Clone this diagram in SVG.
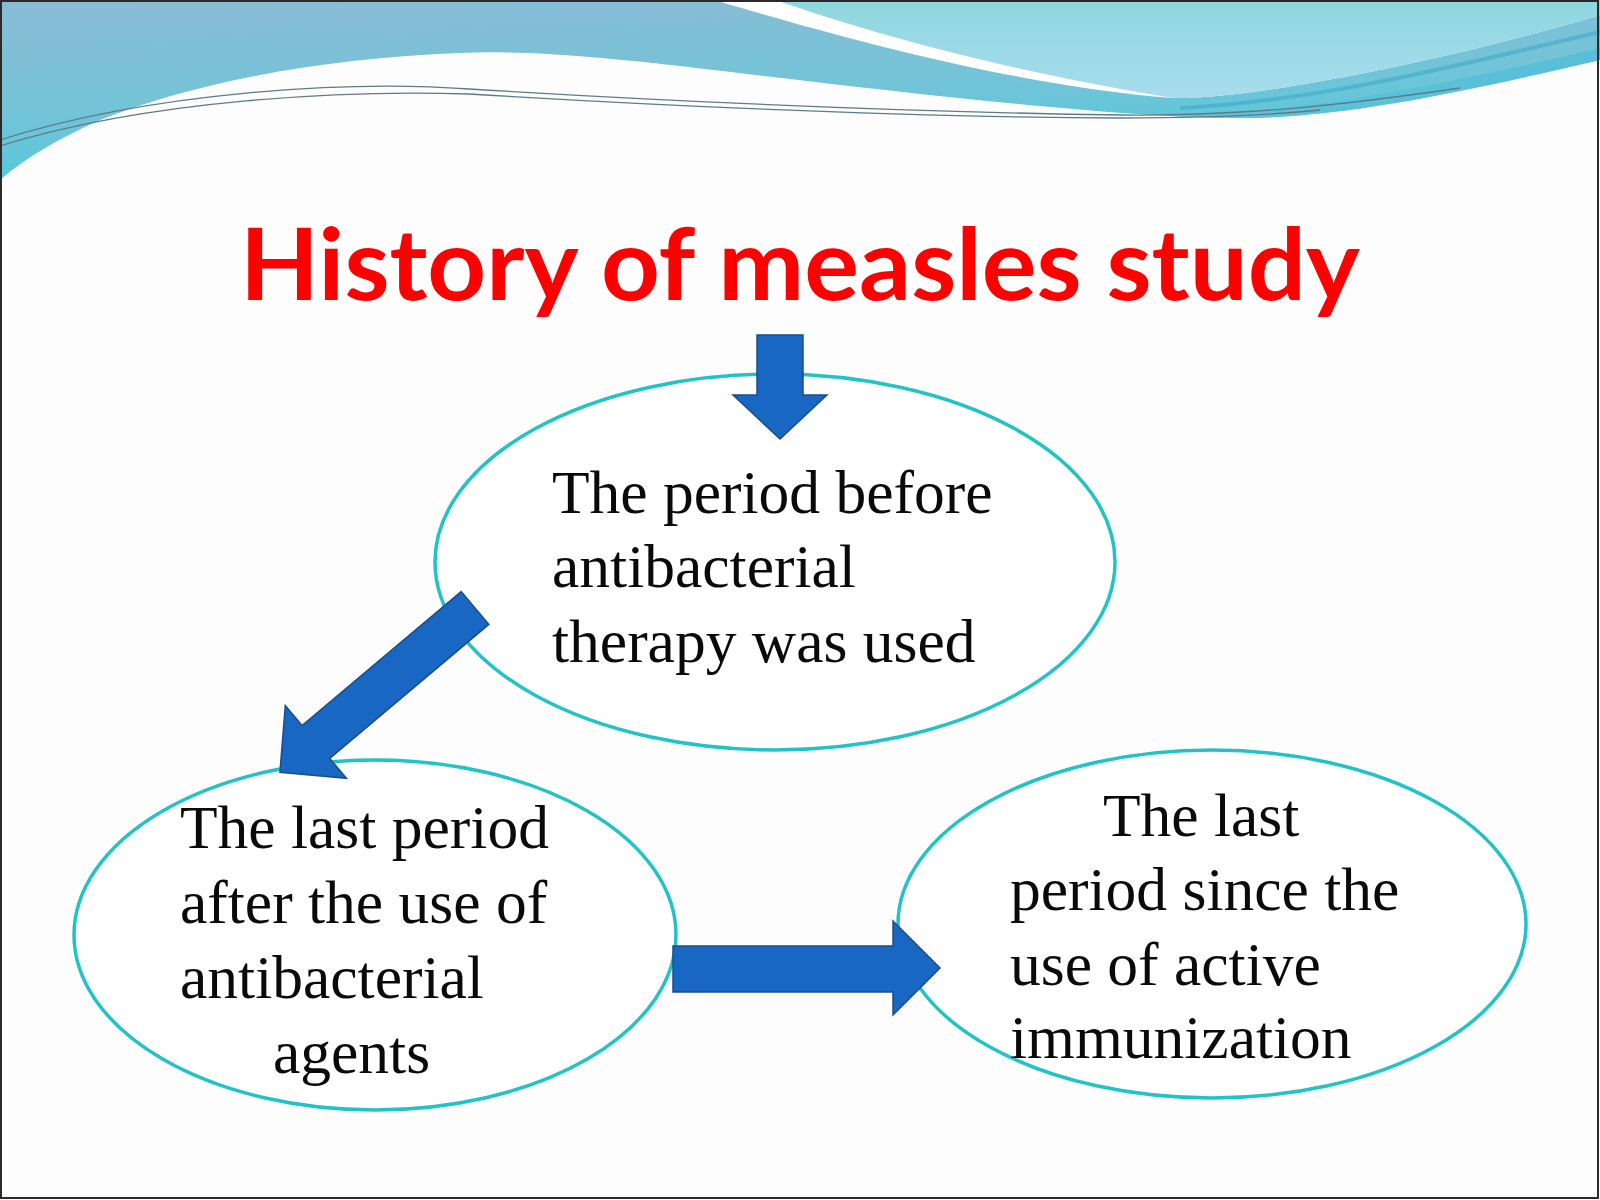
<svg xmlns="http://www.w3.org/2000/svg" width="1600" height="1200" viewBox="0 0 1600 1200">
  <defs>
    <linearGradient id="bandGrad" x1="0" y1="0" x2="0.3" y2="1">
      <stop offset="0" stop-color="#8BBBD5"/>
      <stop offset="0.6" stop-color="#72C4D8"/>
      <stop offset="1" stop-color="#4FC9DB"/>
    </linearGradient>
    <linearGradient id="lightGrad" x1="0" y1="0" x2="0" y2="1">
      <stop offset="0" stop-color="#8ED7DF"/>
      <stop offset="1" stop-color="#A8DCEC"/>
    </linearGradient>
    <linearGradient id="rightBand" x1="0" y1="0" x2="1" y2="0">
      <stop offset="0" stop-color="#5CC6D9"/>
      <stop offset="1" stop-color="#52BCD8"/>
    </linearGradient>
  </defs>
  <style>
    .node-shape { fill: #FFFFFF; stroke: #22C3C6; stroke-width: 3.5; }
    .node-text { font-family: "Liberation Serif", "Times New Roman", serif; font-size: 61.5px; fill: #0A0A0A; }
    .block-arrow { fill: #1767C3; stroke: #1B4E86; stroke-width: 1.5; stroke-linejoin: miter; }
    .title { font-family: "Lato", "Liberation Sans", sans-serif; font-weight: bold; font-size: 100px; fill: #FF0000; }
    .wave-line { fill: none; stroke: #5E7C88; stroke-width: 1.3; }
  </style>

  <rect x="0" y="0" width="1600" height="1200" fill="#FDFDFD"/>

  <g id="header-wave">
    <path d="M0,0 H1600 V60 C1450,95 1330,120 1224,118 C1100,116 900,92 714,70 C600,56 520,50 459,53 C330,58 200,80 100,120 C60,138 25,158 0,180 Z" fill="url(#bandGrad)"/>
    <path d="M1120,112 C1250,122 1400,95 1600,48 V60 C1450,95 1330,120 1224,118 C1180,117 1150,115 1120,112 Z" fill="url(#rightBand)" opacity="0.8"/>
    <path d="M714,0 C800,25 1000,85 1173,98 C1250,100 1450,60 1600,15 V0 Z" fill="#FFFFFF"/>
    <path d="M776,0 C860,30 1000,70 1173,98 C1250,100 1450,60 1600,15 V0 Z" fill="url(#lightGrad)"/>
    <path d="M1180,108 C1330,100 1470,62 1600,32" fill="none" stroke="#3DA7C6" stroke-width="4" opacity="0.55"/>
    <path class="wave-line" d="M0,140 C150,92 350,80 469,89 C650,100 900,112 1122,115 C1250,116 1350,104 1460,88"/>
    <path class="wave-line" d="M0,146 C150,99 350,90 469,94 C650,105 900,117 1122,118 C1200,118 1260,116 1320,110"/>
  </g>

  <g id="title">
    <text class="title" x="800" y="300" text-anchor="middle" textLength="1120" lengthAdjust="spacingAndGlyphs">History of measles study</text>
  </g>

  <g id="node-1">
    <ellipse class="node-shape" cx="775" cy="562" rx="340" ry="188"/>
    <text class="node-text" x="552" y="513">The period before</text>
    <text class="node-text" x="552" y="587">antibacterial</text>
    <text class="node-text" x="552" y="662">therapy was used</text>
  </g>

  <g id="node-2">
    <ellipse class="node-shape" cx="375" cy="935" rx="301" ry="175"/>
    <text class="node-text" x="180" y="848">The last period</text>
    <text class="node-text" x="180" y="923">after the use of</text>
    <text class="node-text" x="180" y="998">antibacterial</text>
    <text class="node-text" x="273" y="1073">agents</text>
  </g>

  <g id="node-3">
    <ellipse class="node-shape" cx="1212" cy="924" rx="314" ry="174"/>
    <text class="node-text" x="1103" y="836">The last</text>
    <text class="node-text" x="1010" y="910">period since the</text>
    <text class="node-text" x="1010" y="985">use of active</text>
    <text class="node-text" x="1010" y="1058">immunization</text>
  </g>

  <g id="connectors">
    <polygon class="block-arrow" points="757,335 803,335 803,395 827,395 780,439 733,395 757,395"/>
    <polygon class="block-arrow" transform="translate(475,608) rotate(139.9)" points="0,-21.5 208,-21.5 208,-47.5 255,0 208,47.5 208,21.5 0,21.5"/>
    <polygon class="block-arrow" points="673,946 893,946 893,921 940,968 893,1015 893,992 673,992"/>
  </g>

  <rect x="1" y="1" width="1597" height="1197" fill="none" stroke="#2A2A2A" stroke-width="2"/>
</svg>
